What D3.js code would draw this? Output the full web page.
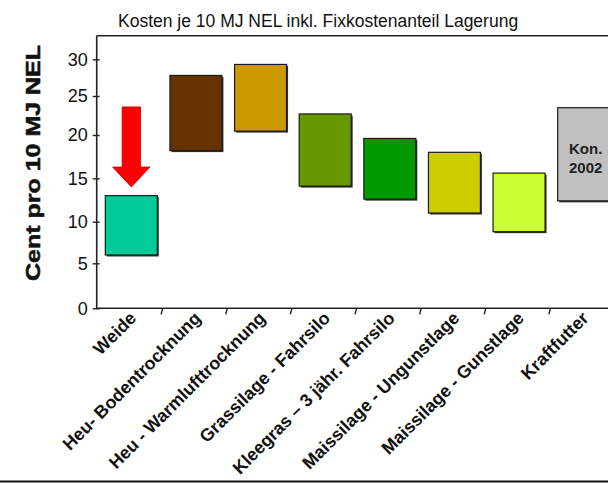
<!DOCTYPE html>
<html>
<head>
<meta charset="utf-8">
<script src="https://cdn.jsdelivr.net/npm/d3@7"></script>
<style>
  html, body { margin: 0; padding: 0; background: #fff; }
  svg { display: block; }
  text { font-family: Arial, "Liberation Sans", Helvetica, sans-serif; }
</style>
</head>
<body>
<svg id="chart" width="608" height="483"></svg>
<script>
// Feed options: cost range per 10 MJ NEL (cent), incl. fixed storage cost share
const categories = [
  "Weide",
  "Heu- Bodentrocknung",
  "Heu - Warmlufttrocknung",
  "Grassilage - Fahrsilo",
  "Kleegras \u2013 3 j\u00e4hr. Fahrsilo",
  "Maissilage  - Ungunstlage",
  "Maissilage  - Gunstlage",
  "Kraftfutter"
];
const lowValues  = [6.0, 18.2, 20.5, 14.1, 12.6, 11.0, 8.8, 12.4];
const highValues = [13.0, 27.8, 29.3, 22.7, 19.6, 18.0, 15.6, 23.5];
const barColors  = ["#00CC99", "#663300", "#CC9900", "#669900", "#009900", "#CCCC00", "#CCFF33", "#C0C0C0"];
const yTicks     = [0, 5, 10, 15, 20, 25, 30];
const barNote    = ["Kon.", "2002"];          // printed inside the Kraftfutter bar
const arrowFrom  = 23.6, arrowHeadBase = 16.3, arrowTip = 14.0;  // arrow pointing at Weide

const title  = "Kosten je 10 MJ NEL inkl. Fixkostenanteil Lagerung";
const yTitle = "Cent pro 10 MJ NEL";

const W = 608, H = 483;
const plotL = 96.7, plotR = 608, plotT = 35.7, plotB = 308.3;

const svg = d3.select("#chart");
svg.append("rect").attr("width", W).attr("height", H).attr("fill", "#fff");

// value axis: tick stops are spaced unevenly on this axis
const y = d3.scaleLinear()
  .domain(yTicks)
  .range([308.3, 263.3, 221.7, 178.3, 135, 96, 59.3]);

const x = d3.scaleBand().domain(categories).range([97, 614]).padding(0);
const barW = 52;
const cx = c => x(c) + x.bandwidth() / 2 + 2;

// frame: top line, bottom rule
svg.append("line").attr("x1", plotL).attr("x2", plotR).attr("y1", plotT).attr("y2", plotT)
  .attr("stroke", "#222").attr("stroke-width", 1.6);
svg.append("line").attr("x1", 0).attr("x2", W).attr("y1", 481.5).attr("y2", 481.5)
  .attr("stroke", "#111").attr("stroke-width", 2);

// bars with a thin drop shadow
const g = svg.append("g");
categories.forEach((c, i) => {
  const x0 = cx(c) - barW / 2;
  const yT = y(highValues[i]), yB = y(lowValues[i]);
  g.append("rect").attr("x", x0 + 1.5).attr("y", yT + 1.5)
    .attr("width", barW).attr("height", yB - yT).attr("fill", "#333");
  g.append("rect").attr("x", x0).attr("y", yT)
    .attr("width", barW).attr("height", yB - yT)
    .attr("fill", barColors[i]).attr("stroke", "#1a1a1a").attr("stroke-width", 1.2);
});

// note inside the last bar
const lastC = categories[categories.length - 1];
svg.append("text").attr("x", cx(lastC) + 2).attr("y", 154)
  .attr("text-anchor", "middle").attr("font-weight", "bold").attr("font-size", 15)
  .attr("fill", "#222").selectAll("tspan").data(barNote).join("tspan")
  .attr("x", cx(lastC) + 2).attr("dy", (d, i) => i ? 19 : 0).text(d => d);

// red arrow onto Weide
const ax = cx(categories[0]);
const sh = 9.2, hh = 18.7;
svg.append("path")
  .attr("d", `M${ax - sh},${y(arrowFrom)} L${ax + sh},${y(arrowFrom)} L${ax + sh},${y(arrowHeadBase)}
    L${ax + hh},${y(arrowHeadBase)} L${ax},${y(arrowTip)} L${ax - hh},${y(arrowHeadBase)}
    L${ax - sh},${y(arrowHeadBase)} Z`)
  .attr("fill", "#FF0000").attr("stroke", "#cc0000").attr("stroke-width", 0.8);

// y axis
const yAxis = svg.append("g").attr("transform", `translate(${plotL},0)`)
  .call(d3.axisLeft(y).tickValues(yTicks).tickSize(0).tickPadding(9));
yAxis.select(".domain").remove();
yAxis.append("line").attr("x1", 0).attr("x2", 0).attr("y1", plotT).attr("y2", plotB)
  .attr("stroke", "#222").attr("stroke-width", 1.6);
yAxis.selectAll(".tick").append("line").attr("x1", -4).attr("x2", 3)
  .attr("stroke", "#222").attr("stroke-width", 1.4);
yAxis.selectAll(".tick text").attr("font-size", 18).attr("fill", "#111")
  .attr("font-family", "Arial, 'Liberation Sans', sans-serif");

// x axis: ticks between categories
const xAxis = svg.append("g").attr("transform", `translate(0,${plotB})`);
xAxis.append("line").attr("x1", plotL).attr("x2", plotR).attr("y1", 0).attr("y2", 0)
  .attr("stroke", "#222").attr("stroke-width", 1.6);
xAxis.selectAll("line.tk").data(categories.slice(1)).join("line").attr("class", "tk")
  .attr("x1", d => x(d) + 1).attr("x2", d => x(d) - 0.5).attr("y1", 0).attr("y2", 6)
  .attr("stroke", "#222").attr("stroke-width", 1.4);
xAxis.selectAll("text").data(categories).join("text")
  .attr("transform", d => `translate(${cx(d) + 6},${11}) rotate(-45)`)
  .attr("text-anchor", "end").attr("font-weight", "bold").attr("font-size", 17.8)
  .attr("fill", "#111").text(d => d);

// titles
svg.append("text").attr("x", 118).attr("y", 27).attr("font-size", 17.5).attr("fill", "#111").text(title);
svg.append("text")
  .attr("transform", `translate(40,${(45 + 281) / 2}) rotate(-90)`)
  .attr("text-anchor", "middle").attr("font-weight", "bold").attr("font-size", 20.5)
  .attr("textLength", 236).attr("lengthAdjust", "spacingAndGlyphs")
  .attr("fill", "#111").attr("stroke", "#111").attr("stroke-width", 0.5).text(yTitle);
</script>
</body>
</html>
